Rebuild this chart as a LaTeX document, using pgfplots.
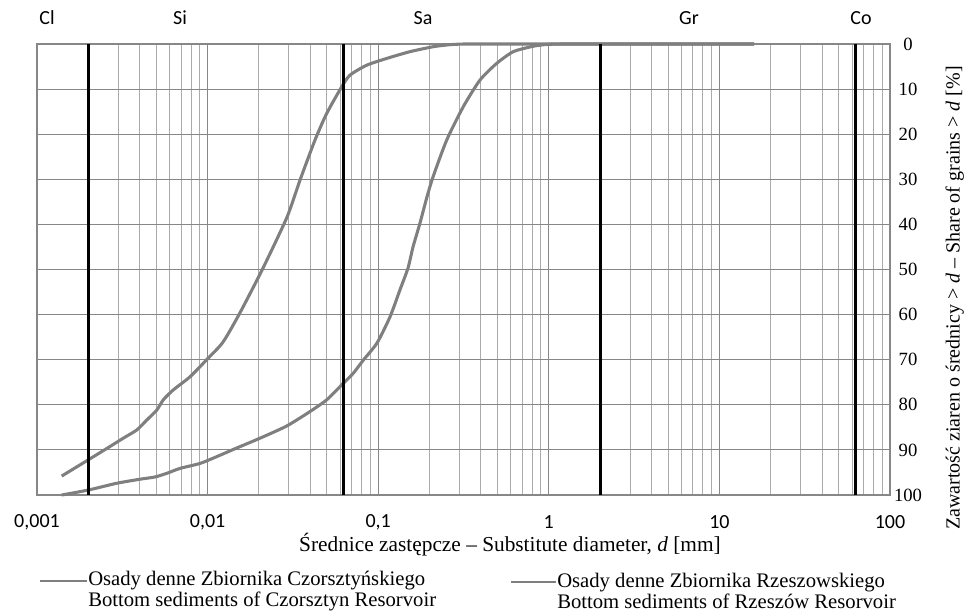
\documentclass[border=0pt]{standalone}
\usepackage{fontspec}
\setmainfont{Liberation Serif}
\newfontfamily\calibri{Carlito}
\usepackage{pgfplots}
\pgfplotsset{compat=1.18}
\definecolor{curve}{HTML}{7F7F7F}
\definecolor{gmin}{HTML}{ABABAB}
\definecolor{gmaj}{HTML}{878787}

% grain size distribution, d [mm] vs share of grains > d [%]
\pgfplotstableread{
d y
0.001396 95.8
0.001999 92.2
0.002562 89.7
0.003205 87.4
0.003841 85.6
0.004395 83.4
0.005030 81.2
0.005499 78.9
0.006294 76.7
0.007885 73.8
0.009879 70.0
0.01231 66.1
0.01548 59.6
0.02112 49.7
0.02920 38.4
0.03480 30.2
0.04261 21.3
0.04990 15.4
0.06109 9.5
0.06834 6.9
0.08562 4.7
0.1122 3.2
0.1536 1.7
0.2104 0.6
0.2636 0.15
0.32 0.0
0.4 0.0
0.6 0.0
1.0 0.0
2.0 0.0
5.0 0.0
16.0 0.0
}\czorsztyn

\pgfplotstableread{
d y
0.001396 100
0.001999 98.9
0.002932 97.4
0.004017 96.5
0.004916 96.0
0.005759 95.2
0.006889 94.1
0.009026 93.0
0.01131 91.5
0.01415 89.9
0.02029 87.4
0.02909 84.7
0.03983 81.5
0.04990 78.9
0.06109 75.6
0.07145 73.0
0.08177 70.1
0.09840 66.3
0.1173 60.5
0.1342 54.5
0.1495 49.7
0.1600 45.0
0.1758 39.7
0.1932 33.9
0.2095 29.5
0.2521 21.3
0.3154 13.9
0.3951 8.0
0.4950 4.3
0.6193 1.7
0.8111 0.5
0.9720 0.1
1.2 0.0
1.6 0.0
2.5 0.0
5.0 0.0
10.0 0.0
16.0 0.0
}\rzeszow

\begin{document}
\begin{tikzpicture}
\useasboundingbox (0,0) rectangle (726pt,460.5pt);
\begin{axis}[
  at={(27.75pt,89.25pt)}, anchor=south west,
  scale only axis, width=639.75pt, height=338.25pt,
  xmode=log, xmin=0.001, xmax=100,
  ymin=0, ymax=100, y dir=reverse,
  xtick={0.001,0.01,0.1,1,10,100},
  xticklabels={{0,001},{0,01},{0,1},1,10,100},
  minor xtick={0.002,0.003,0.004,0.005,0.006,0.007,0.008,0.009,
    0.02,0.03,0.04,0.05,0.06,0.07,0.08,0.09,
    0.2,0.3,0.4,0.5,0.6,0.7,0.8,0.9,
    2,3,4,5,6,7,8,9,20,30,40,50,60,70,80,90},
  ytick={0,10,...,100},
  yticklabel pos=right,
  /pgf/number format/assume math mode=true,
  major tick length=0pt, minor tick length=0pt,
  xmajorgrids, xminorgrids, ymajorgrids,
  major grid style={gmaj, line width=0.8pt},
  minor grid style={gmin, line width=0.75pt},
  axis line style={gmaj, line width=1.1pt},
  xticklabel style={font=\calibri\fontsize{15}{17}\selectfont, anchor=center, yshift=-20.5pt},
  yticklabel style={font=\fontsize{14}{16}\selectfont, anchor=center, inner sep=0pt, xshift=13.5pt},
  clip=false,
]
\draw[gmaj, line width=1.4pt] (axis cs:0.001,50) -- (axis cs:100,50);
\addplot[curve, line width=2.3pt, smooth, tension=0.4] table[x=d, y=y] {\czorsztyn};
\addplot[curve, line width=2.3pt, smooth, tension=0.4] table[x=d, y=y] {\rzeszow};
\foreach \v in {0.002,0.063,2,63}
  {\edef\temp{\noexpand\draw[black, line width=2.2pt] (axis cs:\v,0) -- (axis cs:\v,100);}\temp}
\end{axis}
% zone labels
\begin{scope}[every node/.style={font=\calibri\fontsize{15}{17}\selectfont}]
\node at (35.25pt,447pt) {Cl};
\node at (135pt,447pt) {Si};
\node at (317.25pt,447pt) {Sa};
\node at (516.75pt,447pt) {Gr};
\node at (645.75pt,447pt) {Co};
\end{scope}
% axis titles
\node[font=\fontsize{16}{18}\selectfont, inner sep=0pt] at (382.5pt,51.75pt)
  {Średnice zastępcze – Substitute diameter, \textit{d} [mm]};
\node[font=\fontsize{15}{17}\selectfont, rotate=90] at (716pt,237pt)
  {Zawartość ziaren o średnicy > \textit{d} – Share of grains > \textit{d} [\%]};
% legend
\draw[curve, line width=2.2pt] (30pt,24.75pt) -- (65.25pt,24.75pt);
\node[font=\fontsize{15.5}{15.5}\selectfont, anchor=west, align=left, inner sep=0pt] at (66pt,17.25pt)
  {Osady denne Zbiornika Czorsztyńskiego\\Bottom sediments of Czorsztyn Resorvoir};
\draw[curve, line width=2.2pt] (383.25pt,24pt) -- (417pt,24pt);
\node[font=\fontsize{15.5}{15.5}\selectfont, anchor=west, align=left, inner sep=0pt] at (417.75pt,17.25pt)
  {Osady denne Zbiornika Rzeszowskiego\\Bottom sediments of Rzeszów Resorvoir};
\end{tikzpicture}
\end{document}
